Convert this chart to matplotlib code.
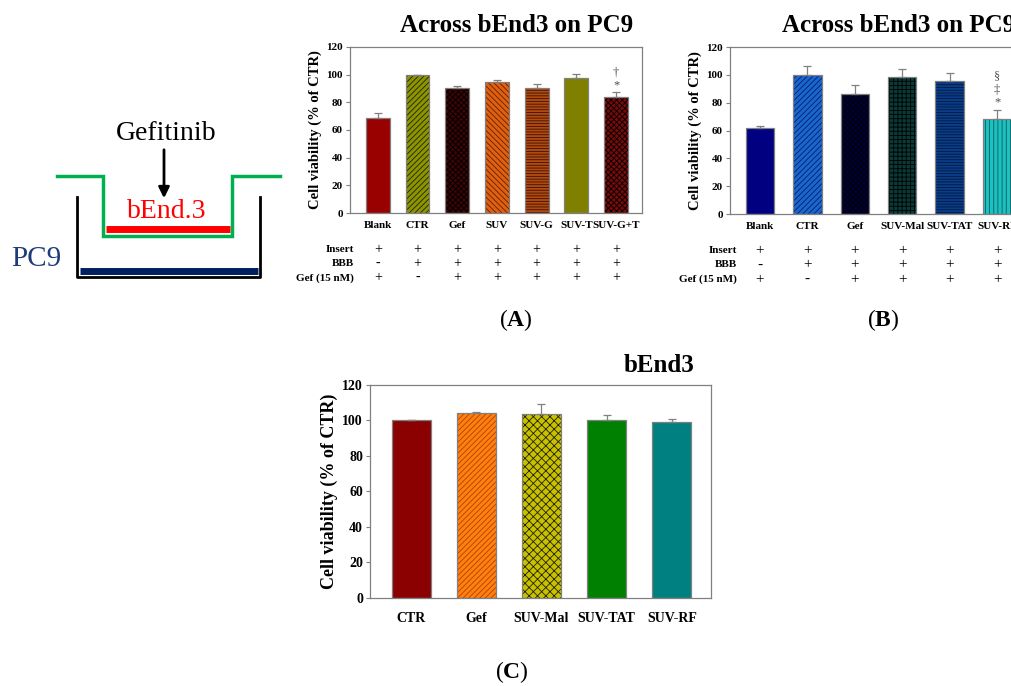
import matplotlib
matplotlib.use("Agg")
import matplotlib.pyplot as plt
from matplotlib.transforms import blended_transform_factory

plt.rcParams['font.family'] = ['Liberation Serif', 'DejaVu Serif']
plt.rcParams['font.weight'] = 'bold'
plt.rcParams['hatch.linewidth'] = 0.6
plt.rcParams['mathtext.fontset'] = 'custom'
plt.rcParams['mathtext.rm'] = 'Liberation Serif'
plt.rcParams['mathtext.bf'] = 'Liberation Serif:bold'

# --- data: panel A (across bEnd3 on PC9, SUV formulations) ---
a_labels = ["Blank", "CTR", "Gef", "SUV", "SUV-G", "SUV-T", "SUV-G+T"]
a_values = [69, 100, 90, 95, 90, 97.5, 84]
a_errors = [3, 0, 2, 1, 3, 3, 3.5]
a_colors = ["#990000", "#8c9400", "#3a0505", "#e06010", "#b04a10", "#808000", "#7a0a0a"]
a_hatch_col = ["#990000", "#202000", "#000000", "#602000", "#401000", "#808000", "#000000"]
a_hatches = [None, "//////", "xxxxxx", "\\\\\\\\\\\\", "------", None, "xxxxxx"]
a_insert = ["+", "+", "+", "+", "+", "+", "+"]
a_bbb = ["-", "+", "+", "+", "+", "+", "+"]
a_gef = ["+", "-", "+", "+", "+", "+", "+"]
a_marks = {6: ["*", "†"]}

# --- data: panel B (across bEnd3 on PC9, targeted SUV) ---
b_labels = ["Blank", "CTR", "Gef", "SUV-Mal", "SUV-TAT", "SUV-RF"]
b_values = [62, 100, 86.5, 98.5, 95.5, 68]
b_errors = [1, 6.5, 6.5, 6, 5.5, 7]
b_colors = ["#000080", "#1a66cc", "#000038", "#0a3a38", "#0a3c88", "#20c0c0"]
b_hatch_col = ["#000080", "#00206a", "#000000", "#000000", "#001a40", "#006060"]
b_hatches = [None, "//////", "xxxxxx", "++++", "------", "||||"]
b_insert = ["+", "+", "+", "+", "+", "+"]
b_bbb = ["-", "+", "+", "+", "+", "+"]
b_gef = ["+", "-", "+", "+", "+", "+"]
b_marks = {5: ["*", "‡", "§"]}

# --- data: panel C (bEnd3 alone) ---
c_labels = ["CTR", "Gef", "SUV-Mal", "SUV-TAT", "SUV-RF"]
c_values = [100, 104, 103.5, 100.5, 99]
c_errors = [0, 1, 6, 2.5, 2]
c_colors = ["#8b0000", "#ff8010", "#c8c000", "#008000", "#008080"]
c_hatch_col = ["#8b0000", "#b04000", "#202000", "#008000", "#008080"]
c_hatches = [None, "//////", "xxxx", None, None]

row_names = ["Insert", "BBB", "Gef (15 nM)"]

fig = plt.figure(figsize=(10.12, 6.86), dpi=100)


def bar_panel(rect, labels, values, errors, colors, hcols, hatches, xlim, tick_fs, cat_fs, ylab_fs):
    ax = fig.add_axes(rect)
    x = list(range(len(labels)))
    for i in x:
        ax.bar(i, values[i], width=0.6, color=colors[i], edgecolor=hcols[i],
               hatch=hatches[i], linewidth=0, zorder=2)
    ax.bar(x, values, width=0.6, fill=False, edgecolor="#808080", linewidth=0.9, zorder=3,
           yerr=[[0] * len(x), errors], ecolor="#808080",
           error_kw=dict(capsize=3, elinewidth=0.9, capthick=0.9))
    ax.set_xlim(*xlim)
    ax.set_ylim(0, 120)
    ax.set_yticks(range(0, 121, 20))
    ax.set_xticks(x)
    ax.set_xticklabels(labels, fontsize=cat_fs, fontweight="bold")
    ax.tick_params(axis="x", length=0, pad=6)
    ax.tick_params(axis="y", length=3, width=0.8, color="#808080", labelsize=tick_fs, pad=2)
    for lab in ax.get_yticklabels():
        lab.set_fontweight("bold")
    for s in ax.spines.values():
        s.set_color("#808080")
        s.set_linewidth(0.9)
    ax.set_ylabel("Cell viability (% of CTR)", fontsize=ylab_fs, fontweight="bold", labelpad=3)
    return ax


def treatment_rows(ax, rows, name_x, fs):
    tr = blended_transform_factory(ax.transData, ax.transAxes)
    ys = [-0.22, -0.305, -0.39]
    for y, name, row in zip(ys, row_names, rows):
        ax.text(name_x, y, name, transform=tr, ha="right", va="center", fontsize=8,
                fontweight="bold")
        for i, s in enumerate(row):
            ax.text(i, y, s, transform=tr, ha="center", va="center", fontsize=fs,
                    fontweight="normal")


def marks(ax, values, errors, mk, step):
    for i, syms in mk.items():
        y0 = values[i] + errors[i] + 5
        for k, s in enumerate(syms):
            ax.text(i, y0 + k * step, s, ha="center", va="center", fontsize=9,
                    color="#505050", fontweight="normal")


axA = bar_panel([0.3458, 0.6895, 0.2885, 0.2420], a_labels, a_values, a_errors, a_colors,
                a_hatch_col, a_hatches, (-0.7, 6.65), 8, 8, 10.5)
treatment_rows(axA, [a_insert, a_bbb, a_gef], -0.6, 10)
marks(axA, a_values, a_errors, a_marks, 9)

axB = bar_panel([0.7213, 0.688, 0.2935, 0.2434], b_labels, b_values, b_errors, b_colors,
                b_hatch_col, b_hatches, (-0.63, 5.63), 8, 8, 10.5)
treatment_rows(axB, [b_insert, b_bbb, b_gef], -0.48, 11)
marks(axB, b_values, b_errors, b_marks, 9.5)

axC = bar_panel([0.3656, 0.1283, 0.337, 0.3105], c_labels, c_values, c_errors, c_colors,
                c_hatch_col, c_hatches, (-0.63, 4.6), 10, 10, 13)
axC.tick_params(axis="x", pad=10)

# --- overlay in pixel coordinates: titles, panel letters, schematic ---
ov = fig.add_axes([0, 0, 1, 1], zorder=10)
ov.set_xlim(0, 1012)
ov.set_ylim(686, 0)
ov.axis("off")
ov.patch.set_alpha(0)

ov.text(517, 25, "Across bEnd3 on PC9", ha="center", va="center", fontsize=18, fontweight="bold")
ov.text(899, 25, "Across bEnd3 on PC9", ha="center", va="center", fontsize=18, fontweight="bold")
ov.text(659, 366, "bEnd3", ha="center", va="center", fontsize=18, fontweight="bold")

for x, y, letter in [(516, 320, "A"), (883, 320, "B"), (512, 672, "C")]:
    ov.text(x, y, "(" + r"$\mathbf{" + letter + "}$" + ")", ha="center", va="center",
            fontsize=17, fontweight="normal")

# schematic of transwell
ov.plot([57, 103, 103, 232, 232, 280], [176, 176, 236, 236, 176, 176], color="#00b050", lw=2.5,
        solid_joinstyle="miter")
ov.plot([77, 77, 260, 260], [197, 277, 277, 197], color="black", lw=2)
ov.plot([106, 230], [229, 229], color="#ff0000", lw=5, solid_capstyle="butt")
ov.plot([80, 258], [271, 271], color="#002060", lw=5, solid_capstyle="butt")
ov.annotate("", xy=(164, 201), xytext=(164, 147),
            arrowprops=dict(arrowstyle="-|>", color="black", lw=2, mutation_scale=16))
ov.text(166, 134, "Gefitinib", ha="center", va="center", fontsize=20, fontweight="normal")
ov.text(167, 211, "bEnd.3", ha="center", va="center", fontsize=20, fontweight="normal",
        color="#ff0000")
ov.text(36, 259, "PC9", ha="center", va="center", fontsize=21, fontweight="normal",
        color="#1f3c78")

fig.savefig("out.png", dpi=100)
